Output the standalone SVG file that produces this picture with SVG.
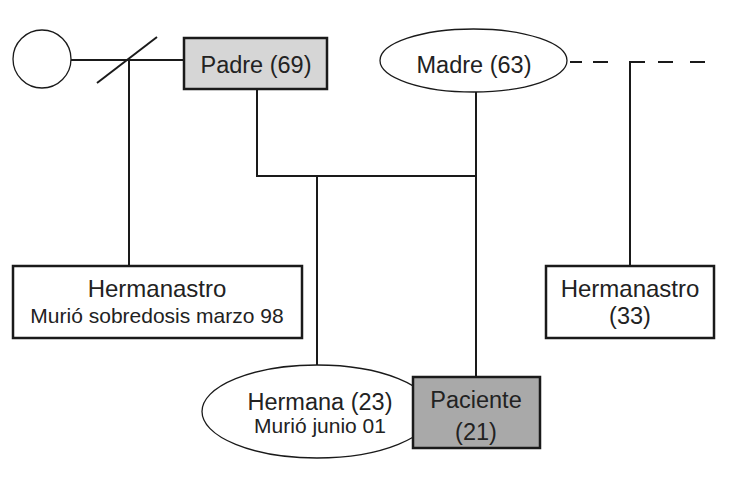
<svg xmlns="http://www.w3.org/2000/svg" width="733" height="479" viewBox="0 0 733 479">
<style>
.ln{stroke:#1a1a1a;stroke-width:2;fill:none}
.box{stroke:#1a1a1a;stroke-width:2.5;fill:#fff}
.oval{stroke:#1a1a1a;stroke-width:1.3;fill:#fff}
.t{font-family:"Liberation Sans",Arial,sans-serif;font-size:23.5px;fill:#222;text-anchor:middle}
.s{font-size:21px}
</style>
<rect width="733" height="479" fill="#fff"/>
<g id="connectors">
<line class="ln" x1="71" y1="60" x2="184" y2="60"/>
<line class="ln" x1="97" y1="83" x2="157" y2="37" stroke-width="1.5"/>
<line class="ln" x1="129" y1="60" x2="129" y2="266"/>
<polyline class="ln" points="257,89 257,176 476,176"/>
<line class="ln" x1="476" y1="92" x2="476" y2="377"/>
<line class="ln" x1="317" y1="176" x2="317" y2="365"/>
<line class="ln" x1="570" y1="62" x2="582" y2="62"/>
<line class="ln" x1="593" y1="62" x2="608" y2="62"/>
<polyline class="ln" points="630,266 630,62 645,62"/>
<line class="ln" x1="658" y1="62" x2="673" y2="62"/>
<line class="ln" x1="690" y1="62" x2="705" y2="62"/>
</g>
<g id="mujer"><circle class="oval" cx="42" cy="59" r="29"/></g>
<g id="padre"><rect class="box" x="184" y="38" width="143" height="51" fill="#d6d6d6" style="fill:#d6d6d6"/><text class="t" x="256" y="73">Padre (69)</text></g>
<g id="madre"><ellipse class="oval" cx="473.5" cy="60.5" rx="93.5" ry="31.5"/><text class="t" x="474" y="73">Madre (63)</text></g>
<g id="hermanastro1"><rect class="box" x="13" y="266" width="289" height="72"/><text class="t" x="157" y="297" style="font-size:24px">Hermanastro</text><text class="t s" x="157" y="323">Murió sobredosis marzo 98</text></g>
<g id="hermanastro2"><rect class="box" x="546" y="266" width="168" height="72"/><text class="t" x="630" y="297" style="font-size:24px">Hermanastro</text><text class="t" x="630" y="324">(33)</text></g>
<g id="hermana"><ellipse class="oval" cx="317" cy="411.5" rx="115" ry="46.5"/><text class="t" x="320" y="410">Hermana (23)</text><text class="t s" x="320" y="433">Murió junio 01</text></g>
<g id="paciente"><rect class="box" x="413" y="377" width="127" height="71" style="fill:#a9a9a9"/><text class="t" x="476" y="408">Paciente</text><text class="t" x="476" y="440">(21)</text></g>
</svg>
